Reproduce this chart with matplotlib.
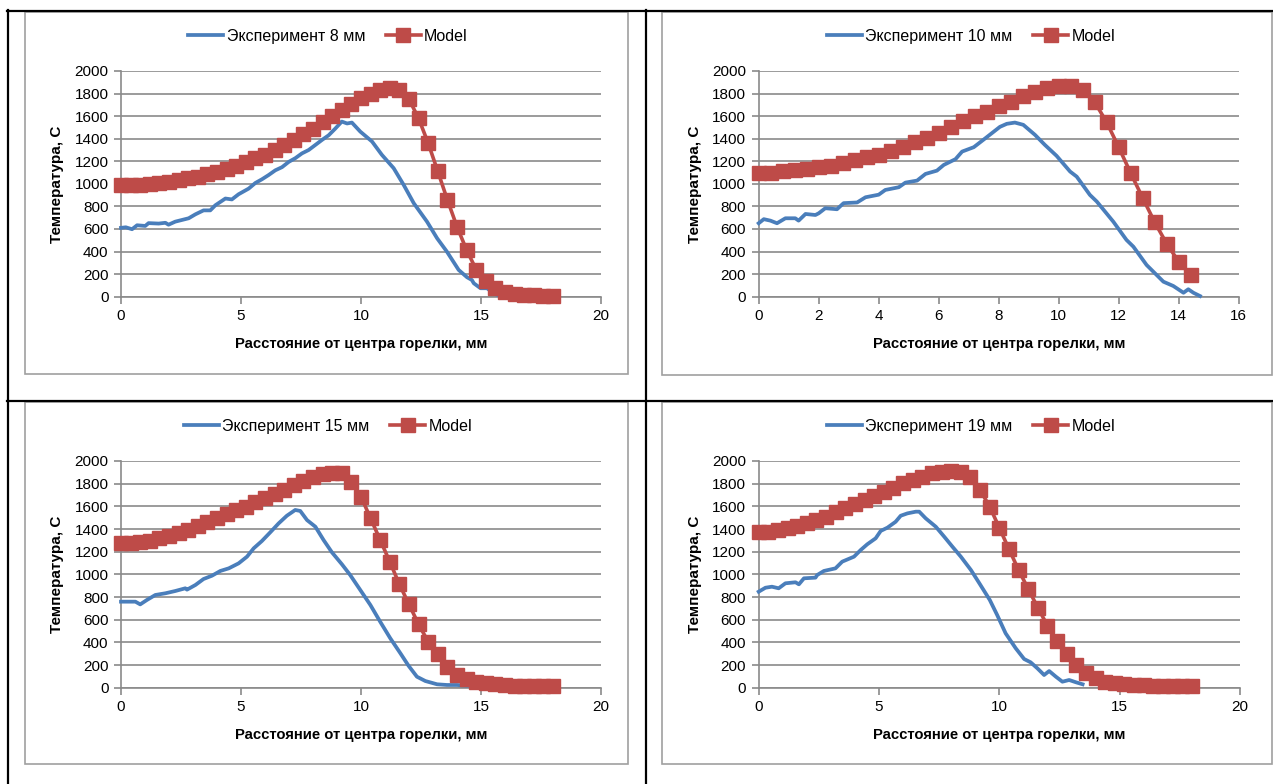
import numpy as np
from matplotlib import pyplot as plt, font_manager
from matplotlib.lines import Line2D
from matplotlib.patches import Rectangle

W, H = 1273, 784

# Model grid, mm
model_x = [0.0, 0.4, 0.8, 1.2, 1.6, 2.0, 2.4, 2.8, 3.2, 3.6, 4.0, 4.4, 4.8, 5.2, 5.6, 6.0,
           6.4, 6.8, 7.2, 7.6, 8.0, 8.4, 8.8, 9.2, 9.6, 10.0, 10.4, 10.8, 11.2, 11.6, 12.0,
           12.4, 12.8, 13.2, 13.6, 14.0, 14.4, 14.8, 15.2, 15.6, 16.0, 16.4, 16.8, 17.2,
           17.6, 18.0]
model_x_short = model_x[:37]    # 0 .. 14.4 mm

# 8 mm
exp8_x = [0.0, 0.2, 0.46, 0.67, 1.01, 1.15, 1.57, 1.85, 1.98, 2.26, 2.54, 2.82, 3.1, 3.44,
          3.72, 3.93, 4.35, 4.62, 4.9, 5.32, 5.6, 5.87, 6.15, 6.43, 6.71, 6.99, 7.26, 7.54,
          7.82, 8.1, 8.38, 8.65, 8.93, 9.2, 9.42, 9.62, 9.97, 10.46, 10.87, 11.36, 11.78,
          12.2, 12.75, 13.17, 13.58, 14.07, 14.42, 14.62, 14.7, 14.98, 15.25, 15.53, 15.8]
exp8_y = [610, 615, 598, 633, 627, 652, 648, 655, 638, 665, 680, 695, 730, 765,
          765, 810, 870, 862, 908, 958, 1008, 1040, 1078, 1120, 1148, 1195, 1227, 1270,
          1300, 1345, 1390, 1430, 1490, 1552, 1535, 1543, 1463, 1375, 1257, 1139, 990,
          828, 665, 518, 399, 237, 172, 148, 119, 75, 75, 30, 5]
model8 = [990, 990, 993, 1000, 1010, 1020, 1032, 1048, 1065, 1085, 1105, 1130, 1160, 1190,
          1225, 1260, 1300, 1345, 1390, 1440, 1490, 1545, 1600, 1655, 1710, 1760, 1800, 1830,
          1845, 1830, 1750, 1580, 1360, 1110, 858, 620, 414, 240, 142, 74, 38, 24, 15, 12,
          10, 10]

# 10 mm
exp10_x = [0.0, 0.17, 0.39, 0.61, 0.89, 1.22, 1.33, 1.56, 1.89, 2.0, 2.22, 2.61, 2.83, 3.28,
           3.56, 4.0, 4.22, 4.67, 4.89, 5.28, 5.56, 5.94, 6.17, 6.56, 6.78, 7.17, 7.56, 8.04,
           8.27, 8.54, 8.82, 9.21, 9.54, 9.93, 10.38, 10.6, 11.04, 11.27, 11.82, 12.26, 12.49,
           12.93, 13.49, 13.82, 14.16, 14.32, 14.49, 14.71]
exp10_y = [651, 687, 674, 651, 695, 695, 674, 733, 724, 739, 784, 775, 829, 835,
           881, 904, 946, 970, 1011, 1029, 1088, 1117, 1168, 1219, 1286, 1325, 1405, 1505,
           1532, 1543, 1523, 1434, 1345, 1248, 1109, 1064, 902, 843, 665, 503, 443,
           281, 133, 95, 35, 66, 35, 6]
model10 = [1100, 1100, 1110, 1120, 1135, 1146, 1160, 1184, 1208, 1237, 1257, 1293, 1326, 1367,
           1405, 1455, 1503, 1553, 1597, 1638, 1690, 1725, 1780, 1815, 1850, 1870, 1870, 1835,
           1725, 1545, 1325, 1095, 875, 660, 470, 310, 192]

# 15 mm
exp15_x = [0.0, 0.32, 0.6, 0.8, 1.08, 1.43, 1.85, 2.26, 2.68, 2.75, 3.1, 3.44, 3.79, 4.14,
           4.49, 4.9, 5.25, 5.53, 5.87, 6.22, 6.57, 6.91, 7.26, 7.47, 7.75, 8.1, 8.44, 8.79,
           9.2, 9.55, 9.97, 10.39, 10.8, 11.22, 11.64, 11.98, 12.33, 12.68, 13.17, 13.58,
           14.0, 14.42]
exp15_y = [759, 759, 759, 735, 774, 818, 833, 853, 877, 865, 906, 959, 988, 1030,
           1053, 1097, 1156, 1230, 1294, 1371, 1450, 1517, 1568, 1559, 1479, 1420, 1303, 1194,
           1090, 994, 862, 730, 582, 436, 304, 194, 97, 59, 30, 24,
           24, 18]
model15 = [1274, 1280, 1283, 1294, 1318, 1341, 1368, 1391, 1429, 1464, 1494, 1530, 1568, 1597,
           1636, 1671, 1706, 1744, 1788, 1824, 1861, 1883, 1891, 1891, 1817, 1685, 1494, 1303,
           1111, 912, 735, 559, 406, 295, 185, 112, 77, 53, 39, 30, 22, 17, 17, 15,
           15, 15]

# 19 mm
exp19_x = [0.0, 0.28, 0.55, 0.83, 1.11, 1.53, 1.67, 1.88, 2.36, 2.43, 2.71, 3.19, 3.47, 3.96,
           4.24, 4.51, 4.86, 5.07, 5.35, 5.69, 5.9, 6.18, 6.53, 6.67, 6.94, 7.36, 7.71, 8.05,
           8.4, 8.82, 9.17, 9.6, 9.91, 10.26, 10.68, 11.03, 11.3, 11.58, 11.86, 12.07, 12.35,
           12.62, 12.9, 13.18, 13.46]
exp19_y = [847, 882, 891, 877, 921, 930, 912, 965, 971, 994, 1030, 1053, 1112, 1156,
           1215, 1265, 1318, 1383, 1412, 1464, 1517, 1538, 1553, 1553, 1494, 1420, 1332, 1244,
           1156, 1038, 921, 775, 641, 480, 348, 253, 224, 171, 112, 147, 97,
           53, 68, 48, 30]
model19 = [1371, 1371, 1391, 1406, 1427, 1450, 1480, 1503, 1547, 1583, 1618, 1656, 1694, 1729,
           1765, 1803, 1832, 1862, 1891, 1905, 1912, 1905, 1862, 1744, 1597, 1410, 1223, 1038,
           871, 706, 547, 412, 295, 200, 127, 88, 53, 39, 30, 24, 24, 18, 18, 18,
           18, 18]

y_ticks = [0, 200, 400, 600, 800, 1000, 1200, 1400, 1600, 1800, 2000]
x_label = 'Расстояние от центра горелки, мм'
y_label = 'Температура, С'

installed = {f.name for f in font_manager.fontManager.ttflist}
font = next(n for n in ['Liberation Sans', 'Arial', 'DejaVu Sans'] if n in installed)
plt.rcParams['font.family'] = [font, 'DejaVu Sans']

blue, red, grey = '#4A7EBB', '#BE4B48', '#8A8A8A'

def box(x0, y0, x1, y1):    # pixel box -> figure fraction rect
    return [x0 / W, 1 - y1 / H, (x1 - x0) / W, (y1 - y0) / H]

fig = plt.figure(figsize=(W / 100, H / 100), dpi=100, facecolor='white')

panels = [
    (exp8_x, exp8_y, model_x, model8, 'Эксперимент 8 мм', 20, 5, (121, 71, 601, 296.7), (25, 12, 628, 374), 328),
    (exp10_x, exp10_y, model_x_short, model10, 'Эксперимент 10 мм', 16, 2, (758.7, 71, 1238.7, 296.7), (662, 12, 1272, 375), 971),
    (exp15_x, exp15_y, model_x, model15, 'Эксперимент 15 мм', 20, 5, (121, 461, 601, 687.7), (25, 402, 628, 764), 328),
    (exp19_x, exp19_y, model_x, model19, 'Эксперимент 19 мм', 20, 5, (758.7, 461, 1240, 687.7), (662, 402, 1272, 764), 971),
]

for ex, ey, mx, my, name, xmax, xstep, area, frame, lx in panels:
    # chart area border
    fig.add_artist(Rectangle((frame[0] / W, 1 - frame[3] / H), (frame[2] - frame[0]) / W,
                             (frame[3] - frame[1]) / H, transform=fig.transFigure,
                             fill=False, edgecolor='#A0A0A0', linewidth=1.2))

    ax = fig.add_axes(box(*area))
    ax.set_facecolor('none')
    l1, = ax.plot(ex, ey, color=blue, linewidth=2.7, clip_on=False, zorder=3)
    l2, = ax.plot(mx, my, color=red, linewidth=2.6, marker='s', markersize=9.5,
                  markerfacecolor=red, markeredgecolor=red, clip_on=False, zorder=4)

    ax.set_xlim(0, xmax)
    ax.set_ylim(0, 2000)
    ax.set_xticks(np.arange(0, xmax + 1, xstep))
    ax.set_yticks(y_ticks)
    ax.yaxis.grid(True, color=grey, linewidth=1.2)
    ax.set_axisbelow(True)
    for s in ['top', 'right']:
        ax.spines[s].set_visible(False)
    for s in ['left', 'bottom']:
        ax.spines[s].set_color(grey)
        ax.spines[s].set_linewidth(1.2)
    ax.tick_params(direction='out', length=5, width=1.2, color=grey, labelsize=11,
                   labelcolor='black', pad=4)

    cx = (area[0] + area[2]) / 2
    cy = (area[1] + area[3]) / 2
    fig.text(cx / W, 1 - (area[3] + 47) / H, x_label, ha='center', va='center',
             fontsize=10.7, fontweight='bold')
    fig.text((area[0] - 64) / W, 1 - cy / H, y_label, ha='center', va='center',
             rotation=90, fontsize=11, fontweight='bold')

    fig.legend([l1, l2], [name, 'Model'], loc='center', ncol=2, frameon=False,
               bbox_to_anchor=(lx / W, 1 - (frame[1] + 24.5) / H), fontsize=11.5,
               handlelength=2.2, handletextpad=0.2, columnspacing=1.3, numpoints=1)

# table grid around the four charts
for (x0, y0, x1, y1) in [(7, 11, 1273, 11), (7, 401, 1273, 401), (8, 10, 8, 784), (646, 10, 646, 784)]:
    fig.add_artist(Line2D([x0 / W, x1 / W], [1 - y0 / H, 1 - y1 / H], transform=fig.transFigure,
                          color='black', linewidth=1.6))

fig.savefig('out.png', dpi=100, facecolor='white')
